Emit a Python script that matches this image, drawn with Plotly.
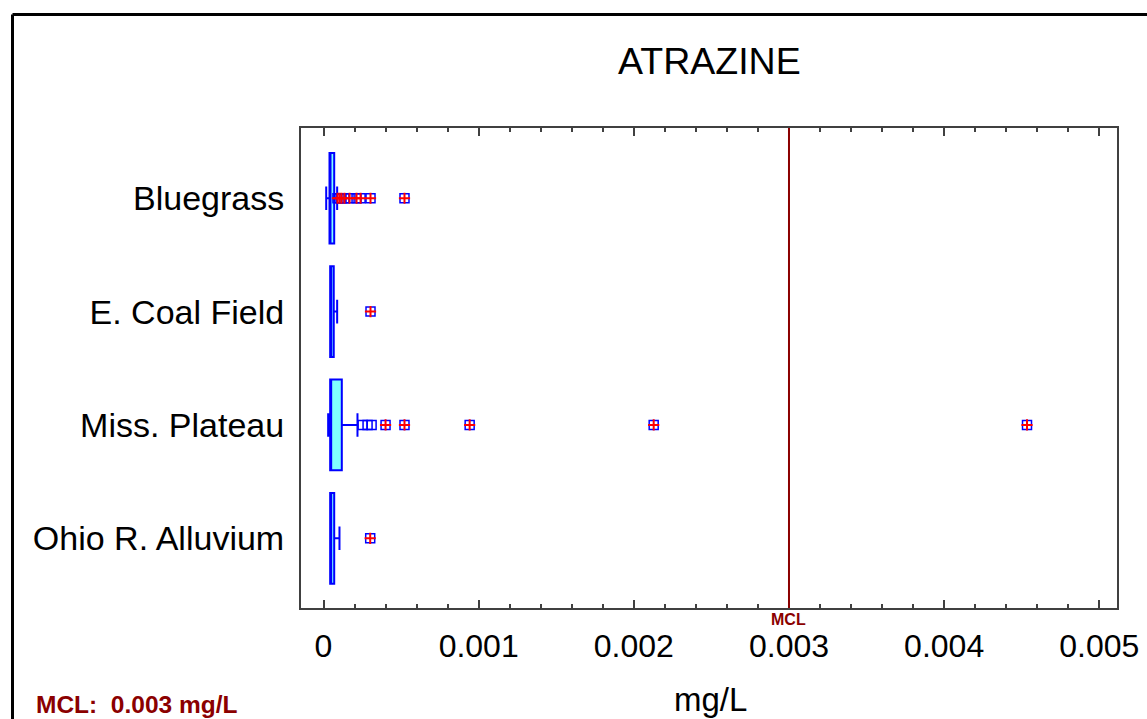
import plotly.graph_objects as go

# ---------------- data ----------------
categories = ["Bluegrass", "E. Coal Field", "Miss. Plateau", "Ohio R. Alluvium"]
q1 = [0.0000387, 0.000043, 0.000043, 0.000043]
median = [0.0000387, 0.000043, 0.000043, 0.000043]
q3 = [0.000069, 0.000066, 0.000118, 0.000069]
lowerfence = [0.0000174, 0.000043, 0.000030, 0.000043]
upperfence = [0.000088, 0.000088, 0.000219, 0.000103]

# outside points (plain squares) and far-outside points (squares with plus)
near_outliers = {
    "Bluegrass": [],
    "E. Coal Field": [],
    "Miss. Plateau": [0.000252, 0.000284, 0.000310],
    "Ohio R. Alluvium": [],
}
far_outliers = {
    "Bluegrass": [0.000090, 0.000103, 0.000116, 0.000135, 0.000168, 0.000213,
                  0.000239, 0.000303, 0.000522],
    "E. Coal Field": [0.000303],
    "Miss. Plateau": [0.000400, 0.000522, 0.000942, 0.002128, 0.004534],
    "Ohio R. Alluvium": [0.000301],
}

x_tickvals = [0, 0.001, 0.002, 0.003, 0.004, 0.005]
x_ticktext = ["0", "0.001", "0.002", "0.003", "0.004", "0.005"]
mcl_value = 0.003
title_text = "ATRAZINE"
x_title = "mg/L"
mcl_note = "MCL:\u00a0 0.003 mg/L"

# ---------------- layout constants ----------------
W, H = 1147, 719
ML, MR, MT, MB = 301, 30, 128, 111
PW, PH = W - ML - MR, H - MT - MB
FONT = "Liberation Sans, Arial, sans-serif"
BLUE = "#0000FF"
DARKRED = "#8B0000"


def px_x(px):
    return (px - ML) / PW


def px_y(py):
    return 1 - (py - MT) / PH


fig = go.Figure()

for i, cat in enumerate(categories):
    fig.add_trace(go.Box(
        y=[cat], q1=[q1[i]], median=[median[i]], q3=[q3[i]],
        lowerfence=[lowerfence[i]], upperfence=[upperfence[i]],
        orientation="h", boxpoints=False, width=0.8, whiskerwidth=0.26,
        fillcolor="#80FFFF", line=dict(color=BLUE, width=2),
        showlegend=False, hoverinfo="skip",
    ))

for cat in categories:
    vals = near_outliers[cat]
    if vals:
        fig.add_trace(go.Scatter(
            x=vals, y=[cat] * len(vals), mode="markers",
            marker=dict(symbol="square-open", size=9, color=BLUE,
                        line=dict(width=1.5, color=BLUE)),
            showlegend=False, hoverinfo="skip"))
    vals = far_outliers[cat]
    if vals:
        fig.add_trace(go.Scatter(
            x=vals, y=[cat] * len(vals), mode="markers",
            marker=dict(symbol="square-open", size=9, color=BLUE,
                        line=dict(width=1.5, color=BLUE)),
            showlegend=False, hoverinfo="skip"))
        fig.add_trace(go.Scatter(
            x=vals, y=[cat] * len(vals), mode="markers",
            marker=dict(symbol="cross-thin-open", size=8, color="#FF0000",
                        line=dict(width=2, color="#FF0000")),
            showlegend=False, hoverinfo="skip"))

fig.update_layout(
    width=W, height=H,
    margin=dict(l=ML, r=MR, t=MT, b=MB, pad=0, autoexpand=False),
    paper_bgcolor="white", plot_bgcolor="white",
    font=dict(family=FONT, color="black"),
    showlegend=False,
    xaxis=dict(
        range=[-0.000145, 0.005114], tickmode="array", automargin=False,
        tickvals=x_tickvals, ticktext=x_ticktext,
        ticks="inside", ticklen=8, tickwidth=1.5, tickcolor="#404040",
        minor=dict(dtick=0.0002, tick0=0, ticks="inside", ticklen=4,
                   tickwidth=1.5, tickcolor="#404040"),
        showline=True, mirror="ticks", linecolor="#404040", linewidth=2,
        showgrid=False, zeroline=False,
        tickfont=dict(size=32, family=FONT), ticklabelstandoff=9,
    ),
    yaxis=dict(
        type="category", categoryorder="array", categoryarray=categories,
        range=[3.615, -0.62], ticks="", automargin=False,
        showline=True, mirror=True, linecolor="#404040", linewidth=2,
        showgrid=False, zeroline=False,
        tickfont=dict(size=34, family=FONT), ticklabelstandoff=8,
    ),
)

# MCL line
fig.add_shape(type="line", xref="x", yref="paper", x0=mcl_value, x1=mcl_value,
              y0=0, y1=1, line=dict(color=DARKRED, width=2))
fig.add_annotation(x=mcl_value, xref="x", y=px_y(619), yref="paper", text="<b>MCL</b>",
                   showarrow=False, xanchor="center", yanchor="middle",
                   font=dict(size=16, color=DARKRED, family=FONT))

# outer frame (top and left edges)
fig.add_shape(type="line", xref="paper", yref="paper",
              x0=px_x(12.5), x1=px_x(W + 20), y0=px_y(14.5), y1=px_y(14.5),
              line=dict(color="black", width=3))
fig.add_shape(type="line", xref="paper", yref="paper",
              x0=px_x(12.5), x1=px_x(12.5), y0=px_y(14.5), y1=px_y(H + 20),
              line=dict(color="black", width=3))

# title
fig.add_annotation(x=px_x(709), xref="paper", y=px_y(61), yref="paper", text=title_text,
                   showarrow=False, xanchor="center", yanchor="middle",
                   font=dict(size=37.5, color="black", family=FONT))
# x-axis title
fig.add_annotation(x=px_x(710), xref="paper", y=px_y(699), yref="paper", text=x_title,
                   showarrow=False, xanchor="center", yanchor="middle",
                   font=dict(size=33, color="black", family=FONT))
# MCL note
fig.add_annotation(x=px_x(34), xref="paper", y=px_y(704), yref="paper", text="<b>" + mcl_note + "</b>",
                   showarrow=False, xanchor="left", yanchor="middle",
                   font=dict(size=24.5, color=DARKRED, family=FONT))

fig.write_html("out.html")
